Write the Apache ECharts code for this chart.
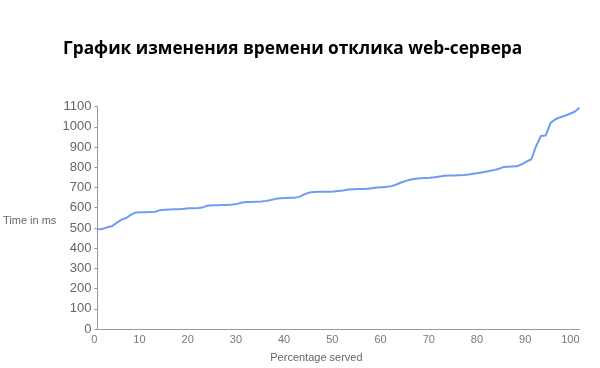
<!DOCTYPE html>
<html>
<head>
<meta charset="utf-8">
<script src="https://cdn.jsdelivr.net/npm/echarts@6/dist/echarts.min.js"></script>
<style>html,body{margin:0;padding:0;background:#fff}#c{width:600px;height:368px}</style>
</head>
<body>
<div id="c"></div>
<script>
const titleText = 'График изменения времени отклика web-сервера';
const xName = 'Percentage served';
const yName = 'Time in ms';
const percentages = [0,1,2,3,4,5,6,7,8,9,10,11,12,13,14,15,16,17,18,19,20,21,22,23,24,25,26,27,28,29,30,31,32,33,34,35,36,37,38,39,40,41,42,43,44,45,46,47,48,49,50,51,52,53,54,55,56,57,58,59,60,61,62,63,64,65,66,67,68,69,70,71,72,73,74,75,76,77,78,79,80,81,82,83,84,85,86,87,88,89,90,91,92,93,94,95,96,97,98,99,100];
const timesMs = [493,495,503,508,525,541,549,566,577,578,578,579,580,588,590,591,592,593,595,597,598,599,603,611,612,612,613,614,616,619,626,628,629,630,631,634,638,644,647,648,649,650,655,667,676,678,679,679,679,680,683,685,690,692,693,693,694,697,700,702,704,707,715,725,733,740,744,746,747,748,751,755,758,759,760,761,762,764,768,772,776,781,785,790,800,803,804,805,815,828,840,905,955,958,1020,1038,1048,1055,1065,1075,1095];

const chart = echarts.init(document.getElementById('c'), null, {renderer: 'canvas'});
chart.setOption({
  animation: false,
  backgroundColor: '#fff',
  title: {
    text: titleText,
    left: 58, top: 36,
    textStyle: {fontFamily: 'Open Sans', fontWeight: 'bold', fontSize: 17.3, color: '#000'}
  },
  grid: {left: 96.5, right: 20.5, top: 106.7, bottom: 39},
  xAxis: {
    type: 'value', min: 0, max: 100, interval: 10,
    name: xName, nameLocation: 'middle', nameGap: 23,
    nameTextStyle: {fontFamily: 'Liberation Sans', fontSize: 11, color: '#666', padding: [0, 44, 0, 0]},
    axisLine: {lineStyle: {color: '#999', width: 1}},
    axisTick: {show: false},
    splitLine: {show: false},
    axisLabel: {fontFamily: 'Liberation Sans', fontSize: 11, color: '#777', margin: 5, align: 'right'}
  },
  yAxis: {
    type: 'value', min: 0, max: 1100, interval: 100,
    name: yName, nameLocation: 'middle', nameGap: 41, nameRotate: 0,
    nameTextStyle: {fontFamily: 'Liberation Sans', fontSize: 11, color: '#666', align: 'right', verticalAlign: 'top', lineHeight: 6},
    axisLine: {show: true, lineStyle: {color: '#999', width: 1}},
    axisTick: {show: true, length: 3, lineStyle: {color: '#999'}},
    splitLine: {show: false},
    axisLabel: {fontFamily: 'Liberation Sans', fontSize: 13, color: '#666', margin: 6, formatter: v => String(v)}
  },
  series: [{
    type: 'line',
    data: percentages.map((p, i) => [p, timesMs[i]]),
    showSymbol: false,
    lineStyle: {color: '#6f9cf1', width: 2},
    itemStyle: {color: '#6f9cf1'}
  }]
});
</script>
</body>
</html>
